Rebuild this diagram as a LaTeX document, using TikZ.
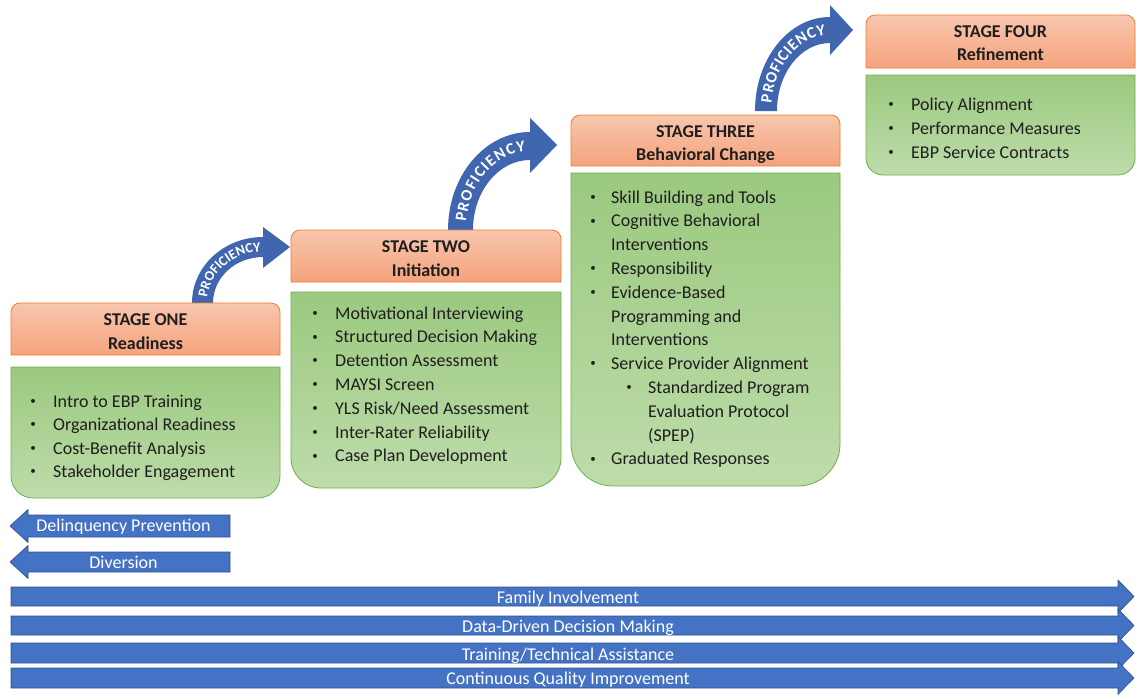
\documentclass[tikz,border=0pt]{standalone}
\usepackage{fontspec}
\setmainfont{Carlito}
\usetikzlibrary{decorations.text}
\definecolor{hdrtop}{HTML}{F8C6AE}
\definecolor{hdrbot}{HTML}{F4A37C}
\definecolor{hdrline}{HTML}{ED7D31}
\definecolor{grntop}{HTML}{9BC97F}
\definecolor{grnbot}{HTML}{BDDCAA}
\definecolor{grnline}{HTML}{70AD47}
\definecolor{barblue}{HTML}{4472C4}
\definecolor{barline}{HTML}{2F528F}
\definecolor{curveblue}{HTML}{4166B0}
\definecolor{txtdark}{HTML}{1E1E1E}
\newcommand{\hdrbox}[4]{% l t r b
  \shadedraw[top color=hdrtop, bottom color=hdrbot, draw=hdrline, line width=0.8pt]
  (#1,#4) -- (#1,{#2+9}) arc[start angle=180,end angle=270,radius=9] -- ({#3-9},#2)
  arc[start angle=270,end angle=360,radius=9] -- (#3,#4) -- cycle;}
\newcommand{\grnbox}[5]{% l t r b radius
  \shadedraw[top color=grntop, bottom color=grnbot, draw=grnline, line width=0.8pt]
  (#1,#2) -- (#3,#2) -- (#3,{#4-#5}) arc[start angle=0,end angle=90,radius=#5] -- ({#1+#5},#4)
  arc[start angle=90,end angle=180,radius=#5] -- cycle;}
\newcommand{\rarrowbar}[2]{%
  \filldraw[fill=barblue, draw=barline, line width=0.6pt] (11,#1) -- (1118,#1) -- (1118,{(#1+#2)/2-16.5})
  -- (1134,{(#1+#2)/2}) -- (1118,{(#1+#2)/2+16.5}) -- (1118,#2) -- (11,#2) -- cycle;}
\newcommand{\larrowbar}[2]{%
  \filldraw[fill=barblue, draw=barline, line width=0.6pt] (230,#1) -- (28,#1) -- (28,{(#1+#2)/2-16.5})
  -- (10,{(#1+#2)/2}) -- (28,{(#1+#2)/2+16.5}) -- (28,#2) -- (230,#2) -- cycle;}
\newcommand{\bulitem}[5]{% name bulletx textx baseline text
  \node[bulletnode, anchor=base] (#1b) at (#2,{#4-2.8}) {\textbullet};
  \node[itemnode, anchor=base west] (#1) at (#3,#4) {#5};}
\newcommand{\contitem}[4]{% name textx baseline text
  \node[itemnode, anchor=base west] (#1) at (#2,#3) {#4};}
\begin{document}
\begin{tikzpicture}[x=1pt,y=-1pt,
  itemnode/.style={inner sep=0pt, text=txtdark, font=\fontsize{18}{22}\selectfont},
  bulletnode/.style={inner sep=0pt, text=txtdark, font=\fontsize{11}{12}\selectfont},
  hdrtext/.style={inner sep=0pt, text=txtdark, font=\bfseries\fontsize{18}{22}\selectfont},
  bartext/.style={inner sep=0pt, text=white, font=\fontsize{18}{22}\selectfont},
  proftext/.style={decorate, decoration={text along path, text align=fit to path, text color=white,
     text={|\bfseries\fontsize{#1}{#1}\selectfont|PROFICIENCY}}}
]
\useasboundingbox (0,0) rectangle (1136,694);

% curved proficiency arrows
\fill[curveblue] (192,303) arc[start angle=180,end angle=270,x radius=71,y radius=66] -- (263,227)
  -- (290,247) -- (263,268) -- (263,257) arc[start angle=270,end angle=180,x radius=50,y radius=46] -- cycle;
\path[proftext=14] ({263+56*cos(186)},{303+51.5*sin(186)}) arc[start angle=186,end angle=266,x radius=56,y radius=51.5];

\fill[curveblue] (448,230) arc[start angle=180,end angle=270,x radius=82,y radius=98] -- (530,118)
  -- (557,145) -- (530,173) -- (530,160) arc[start angle=270,end angle=180,x radius=57,y radius=70] -- cycle;
\path[proftext=16] ({530+64.3*cos(186)},{230+78.8*sin(186)}) arc[start angle=186,end angle=266,x radius=64.3,y radius=78.8];

\fill[curveblue] (755,111) arc[start angle=180,end angle=270,x radius=75,y radius=94] -- (830,5)
  -- (853,30) -- (830,55) -- (830,43) arc[start angle=270,end angle=180,x radius=53,y radius=68] -- cycle;
\path[proftext=16] ({830+58.8*cos(186)},{111+75.8*sin(186)}) arc[start angle=186,end angle=266,x radius=58.8,y radius=75.8];

% stage boxes
\hdrbox{11}{303}{280}{355}
\grnbox{11}{367}{280}{498}{22}
\hdrbox{291}{230}{561}{282}
\grnbox{291}{292}{561}{488}{30}
\hdrbox{571}{115}{840}{166}
\grnbox{571}{173}{840}{486}{42}
\hdrbox{866}{15}{1135}{68}
\grnbox{866}{75}{1135}{175}{17}

% headers
\node[hdrtext, anchor=base] (h1a) at (145.5,325) {STAGE ONE};
\node[hdrtext, anchor=base] (h1b) at (145.5,349) {Readiness};
\node[hdrtext, anchor=base] (h2a) at (426,252) {STAGE TWO};
\node[hdrtext, anchor=base] (h2b) at (426,276) {Initiation};
\node[hdrtext, anchor=base] (h3a) at (705.5,137) {STAGE THREE};
\node[hdrtext, anchor=base] (h3b) at (705.5,160) {Behavioral Change};
\node[hdrtext, anchor=base] (h4a) at (1000.5,37) {STAGE FOUR};
\node[hdrtext, anchor=base] (h4b) at (1000.5,60) {Refinement};

% stage one list
\bulitem{a1}{33}{53}{407}{Intro to EBP Training}
\bulitem{a2}{33}{53}{430.5}{Organizational Readiness}
\bulitem{a3}{33}{53}{454}{Cost-Benefit Analysis}
\bulitem{a4}{33}{53}{477.5}{Stakeholder Engagement}

% stage two list
\bulitem{b1}{315}{335}{319}{Motivational Interviewing}
\bulitem{b2}{315}{335}{342.8}{Structured Decision Making}
\bulitem{b3}{315}{335}{366.6}{Detention Assessment}
\bulitem{b4}{315}{335}{390.4}{MAYSI Screen}
\bulitem{b5}{315}{335}{414.2}{YLS Risk/Need Assessment}
\bulitem{b6}{315}{335}{438}{Inter-Rater Reliability}
\bulitem{b7}{315}{335}{461.8}{Case Plan Development}

% stage three list
\bulitem{c1}{593}{611}{203}{Skill Building and Tools}
\bulitem{c2}{593}{611}{226.8}{Cognitive Behavioral}
\contitem{c2x}{611}{250.6}{Interventions}
\bulitem{c3}{593}{611}{274.4}{Responsibility}
\bulitem{c4}{593}{611}{298.2}{Evidence-Based}
\contitem{c4x}{611}{322}{Programming and}
\contitem{c4y}{611}{345.8}{Interventions}
\bulitem{c5}{593}{611}{369.6}{Service Provider Alignment}
\bulitem{c6}{629}{648}{393.4}{Standardized Program}
\contitem{c6x}{648}{417.2}{Evaluation Protocol}
\contitem{c6y}{648}{441}{(SPEP)}
\bulitem{c7}{593}{611}{464.8}{Graduated Responses}

% stage four list
\bulitem{d1}{891}{911}{110}{Policy Alignment}
\bulitem{d2}{891}{911}{134}{Performance Measures}
\bulitem{d3}{891}{911}{158}{EBP Service Contracts}

% left arrows
\larrowbar{515}{537}
\node[bartext, anchor=base] (dp) at (123.5,531) {Delinquency Prevention};
\larrowbar{552}{572}
\node[bartext, anchor=base] (dv) at (123.5,568) {Diversion};

% bottom arrows
\rarrowbar{587}{606}
\node[bartext, anchor=base] (fi) at (568,603) {Family Involvement};
\rarrowbar{616}{635}
\node[bartext, anchor=base] (dd) at (568,632) {Data-Driven Decision Making};
\rarrowbar{643}{663}
\node[bartext, anchor=base] (tt) at (568,660) {Training/Technical Assistance};
\rarrowbar{668}{688}
\node[bartext, anchor=base] (cq) at (568,684) {Continuous Quality Improvement};
\end{tikzpicture}
\end{document}
